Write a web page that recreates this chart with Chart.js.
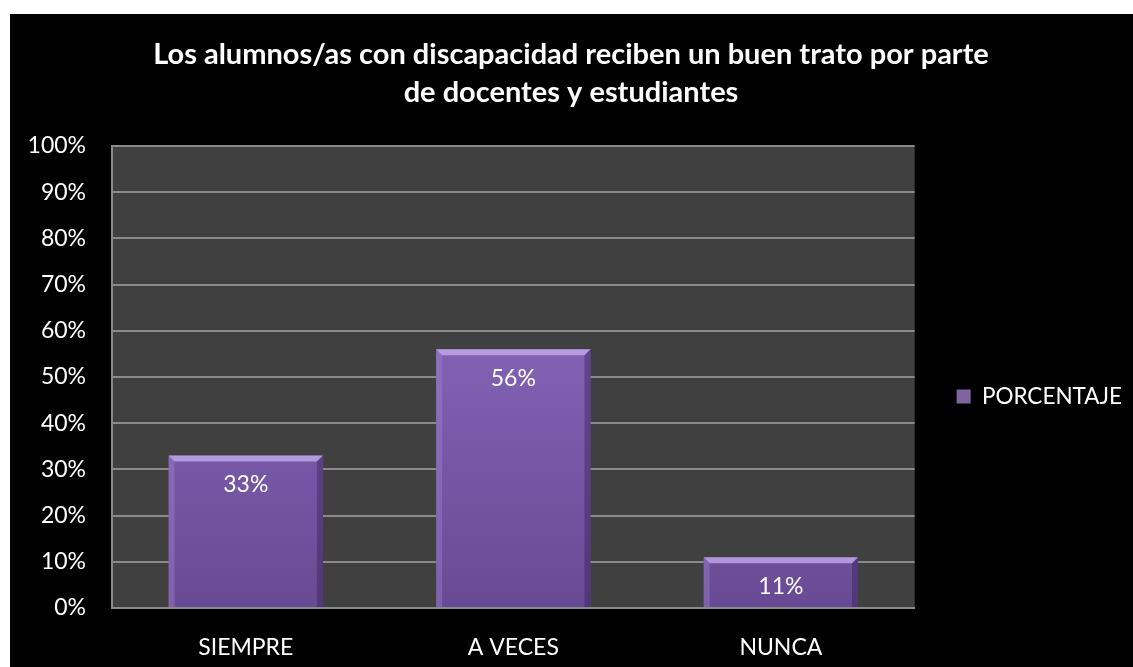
<!DOCTYPE html>
<html>
<head>
<meta charset="utf-8">
<script src="https://cdn.jsdelivr.net/npm/chart.js@4/dist/chart.umd.min.js"></script>
<style>
  html, body { margin: 0; padding: 0; background: #ffffff; width: 1133px; height: 667px; overflow: hidden; }
  #wrap { position: absolute; left: 10px; top: 14px; width: 1123px; height: 653px; background: #000000; }
</style>
</head>
<body>
<div id="wrap"><canvas id="c"></canvas></div>
<script>
const titleLines = ['Los alumnos/as con discapacidad reciben un buen trato por parte', 'de docentes y estudiantes'];
const categories = ['SIEMPRE', 'A VECES', 'NUNCA'];
const seriesName = 'PORCENTAJE';
const values = [33, 56, 11];
const valueLabels = ['33%', '56%', '11%'];
const yTicks = [0, 10, 20, 30, 40, 50, 60, 70, 80, 90, 100];

const FONT = 'Lato, "Open Sans", sans-serif';

function barGradient(ctx) {
  const chart = ctx.chart;
  const area = chart.chartArea;
  if (!area) return '#8064a2';
  const g = chart.ctx.createLinearGradient(0, area.top, 0, area.bottom);
  g.addColorStop(0, '#8c6cc0');
  g.addColorStop(0.5, '#7e5fb0');
  g.addColorStop(1, '#684a94');
  return g;
}

const plotBg = {
  id: 'plotBg',
  beforeDraw(chart) {
    const a = chart.chartArea, c = chart.ctx;
    c.save();
    c.fillStyle = '#404040';
    c.fillRect(a.left, a.top, a.right - a.left, a.bottom - a.top);
    c.restore();
  }
};

const bevelAndLabels = {
  id: 'bevelAndLabels',
  afterDatasetsDraw(chart) {
    const c = chart.ctx;
    const meta = chart.getDatasetMeta(0);
    meta.data.forEach((bar, i) => {
      const p = bar.getProps(['x', 'y', 'base', 'width'], true);
      const l = p.x - p.width / 2, r = p.x + p.width / 2, t = p.y, b = p.base;
      const bv = 6;
      c.save();
      c.beginPath();
      c.moveTo(l, t); c.lineTo(r, t); c.lineTo(r - bv, t + bv); c.lineTo(l + bv, t + bv); c.closePath();
      c.fillStyle = 'rgba(200,175,240,0.75)';
      c.fill();
      c.beginPath();
      c.moveTo(l, t); c.lineTo(l + bv, t + bv); c.lineTo(l + bv, b); c.lineTo(l, b); c.closePath();
      c.fillStyle = 'rgba(170,140,220,0.35)';
      c.fill();
      c.beginPath();
      c.moveTo(r, t); c.lineTo(r - bv, t + bv); c.lineTo(r - bv, b); c.lineTo(r, b); c.closePath();
      c.fillStyle = 'rgba(40,20,70,0.35)';
      c.fill();
      c.fillStyle = '#ffffff';
      c.font = '23px ' + FONT;
      c.textAlign = 'center';
      c.textBaseline = 'middle';
      c.fillText(valueLabels[i], p.x, t + 29);
      c.restore();
    });
  }
};

new Chart(document.getElementById('c'), {
  type: 'bar',
  data: {
    labels: categories,
    datasets: [{
      label: seriesName,
      data: values,
      backgroundColor: barGradient,
      borderWidth: 0,
      barPercentage: 0.577,
      categoryPercentage: 1
    }]
  },
  options: {
    responsive: true,
    maintainAspectRatio: false,
    animation: false,
    layout: { padding: { top: 0, right: 1, bottom: 0, left: 0 } },
    plugins: {
      title: {
        display: true,
        text: titleLines,
        color: '#ffffff',
        font: { family: FONT, size: 29, weight: 'bold', lineHeight: 1.31 },
        padding: { top: 22, bottom: 34 }
      },
      legend: {
        position: 'right',
        title: { display: true, text: ' ', font: { size: 10, lineHeight: 1.2 }, padding: { top: 100, bottom: 0 } },
        labels: {
          color: '#ffffff',
          font: { family: FONT, size: 22.5 },
          boxWidth: 14,
          boxHeight: 14,
          padding: 42,
          generateLabels: () => [{ text: seriesName, fillStyle: '#8064a2', strokeStyle: '#8064a2', lineWidth: 0, datasetIndex: 0, fontColor: '#ffffff' }]
        }
      },
      tooltip: { enabled: false }
    },
    scales: {
      x: {
        grid: { display: false, drawTicks: false },
        border: { display: true, color: '#8a8a8a', width: 2 },
        ticks: { color: '#ffffff', font: { family: FONT, size: 23 }, padding: 26 },
        afterFit(s) { s.height = 59; }
      },
      y: {
        min: 0, max: 100,
        afterBuildTicks(s) { s.ticks = yTicks.map(v => ({ value: v })); },
        grid: { color: '#8a8a8a', lineWidth: 2, drawTicks: false },
        border: { display: true, color: '#8a8a8a', width: 2 },
        ticks: { color: '#ffffff', font: { family: FONT, size: 23 }, padding: 26, callback: v => v + '%' },
        afterFit(s) { s.width = 102; }
      }
    }
  },
  plugins: [plotBg, bevelAndLabels]
});
</script>
</body>
</html>
